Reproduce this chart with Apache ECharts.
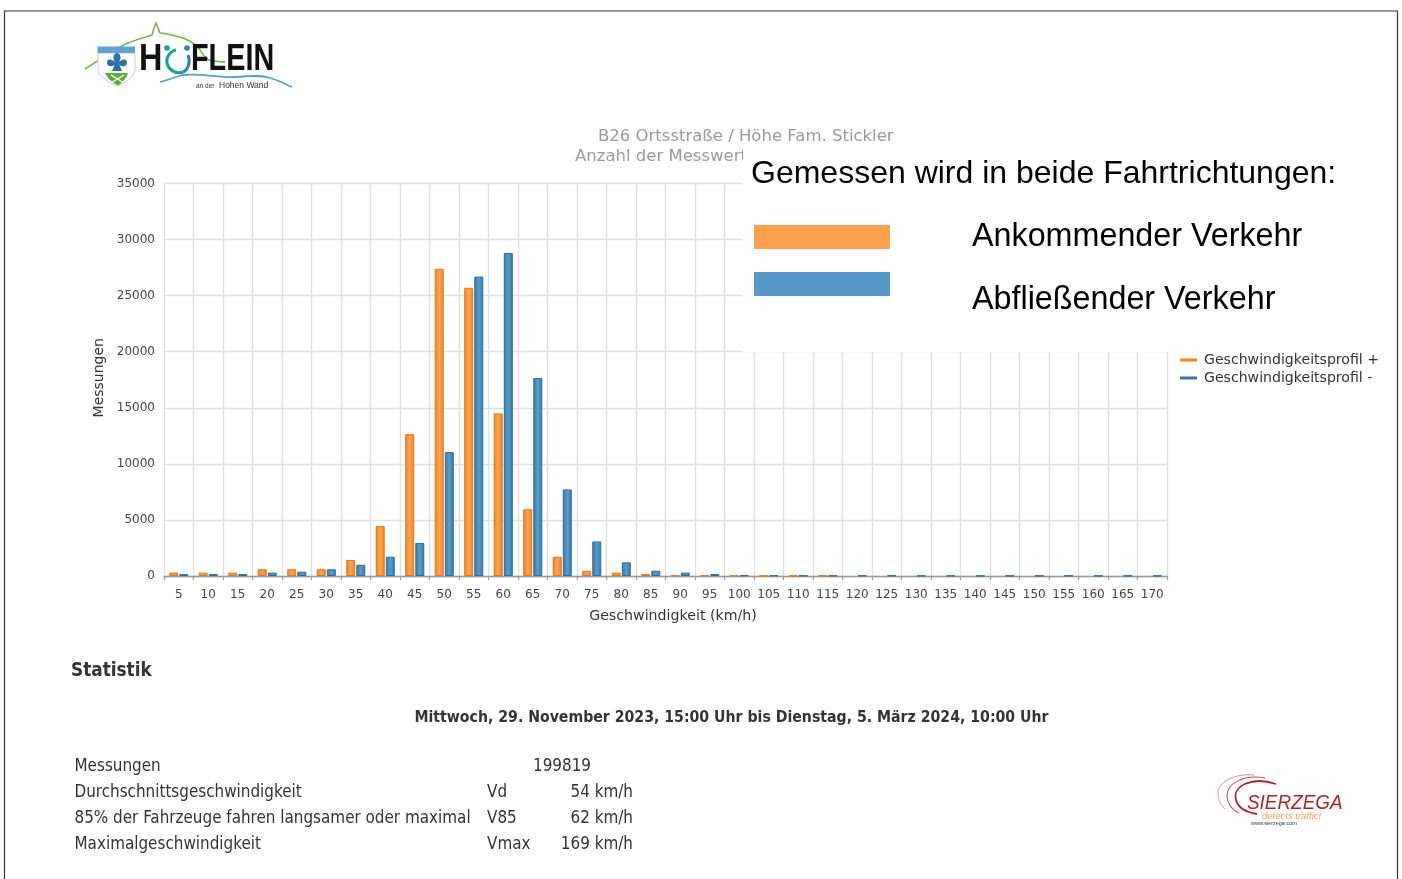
<!DOCTYPE html>
<html><head><meta charset="utf-8">
<style>html,body{margin:0;padding:0;background:#fff}#c{width:1402px;height:879px}</style>
<script src="https://cdn.jsdelivr.net/npm/echarts@6/dist/echarts.min.js"></script>
</head><body><div id="c"></div>
<script>
const categories = ['5','10','15','20','25','30','35','40','45','50','55','60','65','70','75','80','85','90','95','100','105','110','115','120','125','130','135','140','145','150','155','160','165','170'];
const incoming = [300,300,300,600,600,600,1420,4450,12650,27400,25700,14500,5950,1720,470,300,180,50,50,40,30,30,30,null,null,null,null,null,null,null,null,null,null,null];
const outgoing = [180,180,180,300,380,600,1000,1720,2940,11050,26700,28800,17650,7720,3080,1220,470,300,180,60,50,40,40,40,40,30,30,30,30,30,30,30,30,30];
const seriesNames = ['Geschwindigkeitsprofil +','Geschwindigkeitsprofil -'];
const statRows = [
  ['Messungen','','199819',''],
  ['Durchschnittsgeschwindigkeit','Vd','54 km/h'],
  ['85% der Fahrzeuge fahren langsamer oder maximal','V85','62 km/h'],
  ['Maximalgeschwindigkeit','Vmax','169 km/h']
];
const cond = '"DejaVu Sans Condensed","DejaVu Sans"';
const grad = (e,m)=>({type:'linear',x:0,y:0,x2:1,y2:0,colorStops:[{offset:0,color:e},{offset:.5,color:m},{offset:1,color:e}]});
const T = (x,y,text,font,fill,align,sx)=>({type:'text',z:100,x,y,scaleX:sx||1,style:{text,font,fill:fill||'#333',textAlign:align||'left',textVerticalAlign:'middle'}});
let shapeId = 0;
const P = (d,stroke,lw,fill)=>{
  const name='deco'+(shapeId++);
  echarts.graphic.registerShape(name, echarts.graphic.extendPath(d,{}));
  return {type:name,z:100,style:{stroke:stroke||'none',lineWidth:lw||1,fill:fill||'none'}};
};
const R = (x,y,w,h,fill)=>({type:'rect',z:100,shape:{x,y,width:w,height:h},style:{fill}});

const g = [];
// frame
g.push(P('M4.5 879 L4.5 11 L1397.5 11 L1397.5 879','#333',1.2));
// white overlay panel and its legend
g.push(R(743,148,440,204,'#fff'));
g.push(T(751,174,'Gemessen wird in beide Fahrtrichtungen:','32px "Liberation Sans"','#000'));
g.push(R(754,225,136,24,'#ffa04d'));
g.push(R(754,272,136,24,'#5599c8'));
g.push(T(972,237,'Ankommender Verkehr','32.3px "Liberation Sans"','#000'));
g.push(T(972,300,'Abfließender Verkehr','32.3px "Liberation Sans"','#000'));
// statistics
g.push(T(71,671,'Statistik','bold 18.8px '+cond,'#333'));
g.push(T(731.5,718,'Mittwoch, 29. November 2023, 15:00 Uhr bis Dienstag, 5. März 2024, 10:00 Uhr','bold 15.7px '+cond,'#333','center'));
statRows.forEach((r,i)=>{
  const y=767+i*26, f='16.9px '+cond;
  g.push(T(74.5,y,r[0],f));
  if(r[1]) g.push(T(487,y,r[1],f));
  g.push(T(i===0?591:633,y,r[2],f,'#333','right'));
});
// Hoeflein logo
g.push(P('M85 69 C100 60 112 50 128 43 C138 39 146 37 152 35 L154 28 L156 23 L158 28 L160 33 C170 34 176 36 183 38 C190 41 194 43 198 47 C202 53 205 58 209 60 C214 61 220 62 225 62','#6eb43f',1.5));
g.push(P('M98 53 L135 53 L135 70 C133 78 126 82 118 86 C108 82 100 78 98 70 Z','#c4c4c4',.9,'#fff'));
g.push(R(97.5,46.5,37.5,6.5,'#5da2d5'));
g.push(P('M105 73 L128 73 C126 79 123 82 118 85.5 C112 82 108 79 105 73 Z','none',1,'#63a83a'));
g.push(P('M111 75 L124 83 M124 75 L111 83','#fff',1.4));
g.push(P('M117 53 C112 54 113 60 115.5 62 C112 59 107 58 107 62.5 C107 67 112 67 114.5 65 L112 71 L122 71 L119.5 65 C122 67 127 67 127 62.5 C127 58 122 59 118.5 62 C121 60 122 54 117 53 Z','none',1,'#2f6ea8'));
g.push(T(139,60,'H','bold 36px "Liberation Sans"','#111','left',.9));
g.push(T(191,60,'FLEIN','bold 36px "Liberation Sans"','#111','left',.8));
g.push(P('M176 50 C168 52 165 60 168 66 C171 72 178 74 183 72','#1aa08f',3));
g.push(P('M183 72 C188 70 191 62 188 55','#2b7fc1',3));
g.push({type:'circle',z:100,shape:{cx:167,cy:48,r:2.8},style:{fill:'#1aa08f'}});
g.push({type:'circle',z:100,shape:{cx:187,cy:48,r:2.8},style:{fill:'#2b7fc1'}});
g.push(P('M160 82 C168 80 175 77 183 75 C200 73 220 78 237 77 C250 76 262 75 270 78 C278 80 285 84 292 87','#4f9fd6',1.8));
g.push(T(196,86.5,'an der','6.5px "Liberation Sans"','#333'));
g.push(T(219,86,'Hohen Wand','8.5px "Liberation Sans"','#333'));
// Sierzega logo
g.push(P('M1255 775 C1235 773 1217 782 1218 794 C1218 800 1221 805 1225 809','#c58a8a',.9));
g.push(P('M1265 778 C1243 774 1226 784 1227 797 C1228 805 1232 810 1239 813','#b85a5a',1.1));
g.push(P('M1276 784 C1252 776 1232 786 1236 800 C1238 808 1245 812 1257 814','#a8252b',1.8));
g.push(T(1247,803,'SIERZEGA','italic 21px "Liberation Sans"','#a8252b','left',.9));
g.push(T(1262,816,'detects traffic!','italic 9.5px "Liberation Sans"','#e8a060'));
g.push(T(1251,823,'www.sierzega.com','5.5px "Liberation Sans"','#333'));

const axisTxt = {color:'#444',fontFamily:'"DejaVu Sans"',fontSize:12};
const chart = echarts.init(document.getElementById('c'),null,{renderer:'canvas'});
chart.setOption({
  animation:false,
  backgroundColor:'#fff',
  textStyle:{fontFamily:'"DejaVu Sans"'},
  title:[
    {text:'B26 Ortsstraße / Höhe Fam. Stickler',left:593,top:123,textStyle:{color:'#999',fontSize:16.5,fontWeight:'normal',fontFamily:'"DejaVu Sans"'}},
    {text:'Anzahl der Messwerte',left:570,top:143,textStyle:{color:'#999',fontSize:16.5,fontWeight:'normal',fontFamily:'"DejaVu Sans"'}}
  ],
  legend:{
    orient:'vertical',left:1175,top:348,itemWidth:17,itemHeight:3,itemGap:4,icon:'rect',
    textStyle:{color:'#333',fontSize:14.1,fontFamily:'"DejaVu Sans"',padding:[0,0,0,2]},
    data:[{name:seriesNames[0],itemStyle:{color:'#ff7f0e',borderWidth:0}},{name:seriesNames[1],itemStyle:{color:'#2f78ad',borderWidth:0}}]
  },
  grid:{left:164,top:183.5,width:1003,height:392.5},
  xAxis:{
    type:'category',data:categories,boundaryGap:true,
    name:'Geschwindigkeit (km/h)',nameLocation:'middle',nameGap:33,
    nameTextStyle:{color:'#333',fontSize:14.2,fontFamily:'"DejaVu Sans"',padding:[0,0,0,15]},
    axisLine:{lineStyle:{color:'#999',width:1.3}},
    axisTick:{show:true,length:4,lineStyle:{color:'#999',width:1.2},alignWithLabel:false},
    axisLabel:Object.assign({interval:0,margin:13},axisTxt),
    splitLine:{show:true,interval:0,lineStyle:{color:'#e0e0e0',width:1.4}}
  },
  yAxis:{
    type:'value',min:0,max:35000,interval:5000,
    name:'Messungen',nameLocation:'middle',nameGap:58,
    nameTextStyle:{color:'#333',fontSize:14,fontFamily:'"DejaVu Sans"',padding:[0,0,0,4]},
    axisLine:{show:false},axisTick:{show:false},
    axisLabel:Object.assign({margin:9,formatter:v=>String(v),padding:[4,0,0,0]},axisTxt),
    splitLine:{show:true,lineStyle:{color:'#e0e0e0',width:1.4}}
  },
  series:[
    {name:seriesNames[0],type:'bar',data:incoming,barWidth:9,barGap:'12%',
     itemStyle:{color:grad('#ee8126','#ffa650'),borderColor:'#e2761b',borderWidth:1}},
    {name:seriesNames[1],type:'bar',data:outgoing,barWidth:9,
     itemStyle:{color:grad('#33789f','#5c9ccc'),borderColor:'#2c6fa0',borderWidth:1}}
  ],
  graphic:{elements:g}
});
</script></body></html>
